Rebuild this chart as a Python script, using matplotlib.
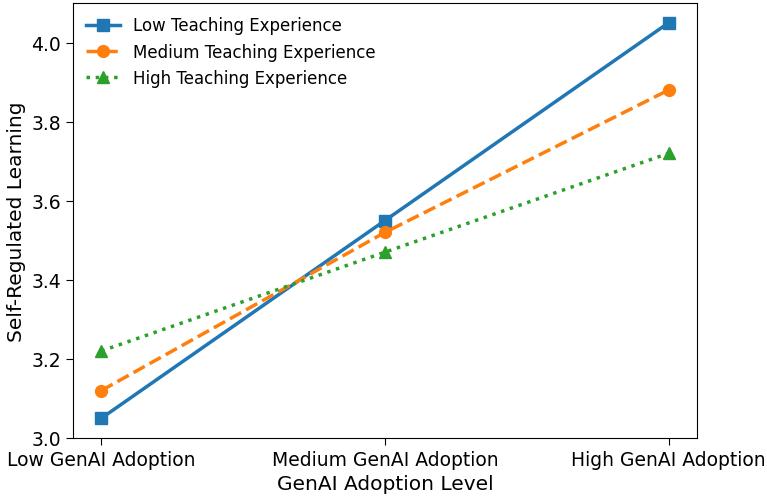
import matplotlib
matplotlib.use("Agg")
import matplotlib.pyplot as plt

categories = ["Low GenAI Adoption", "Medium GenAI Adoption", "High GenAI Adoption"]
low_exp = [3.05, 3.55, 4.05]
med_exp = [3.12, 3.52, 3.88]
high_exp = [3.22, 3.47, 3.72]

fig, ax = plt.subplots(figsize=(7.67, 5.02), dpi=100)
x = range(len(categories))
ax.plot(x, low_exp, marker="s", linestyle="-", linewidth=2.5, markersize=8.5, color="#1f77b4", label="Low Teaching Experience")
ax.plot(x, med_exp, marker="o", linestyle="--", linewidth=2.5, markersize=8.5, color="#ff7f0e", label="Medium Teaching Experience")
ax.plot(x, high_exp, marker="^", linestyle=":", linewidth=2.5, markersize=8.5, color="#2ca02c", label="High Teaching Experience")
ax.set_xticks(list(x))
ax.set_xticklabels(categories, fontsize=13.5)
ax.tick_params(axis="both", labelsize=13.5, length=5)
ax.set_ylim(3.0, 4.1)
ax.set_xlabel("GenAI Adoption Level", fontsize=14.5)
ax.set_ylabel("Self-Regulated Learning", fontsize=14.5)
ax.legend(loc="upper left", fontsize=12, frameon=False, borderaxespad=0.4)
fig.subplots_adjust(left=73/767, right=697/767, top=1-4/502, bottom=1-439/502)
fig.savefig("out.png", dpi=100)
